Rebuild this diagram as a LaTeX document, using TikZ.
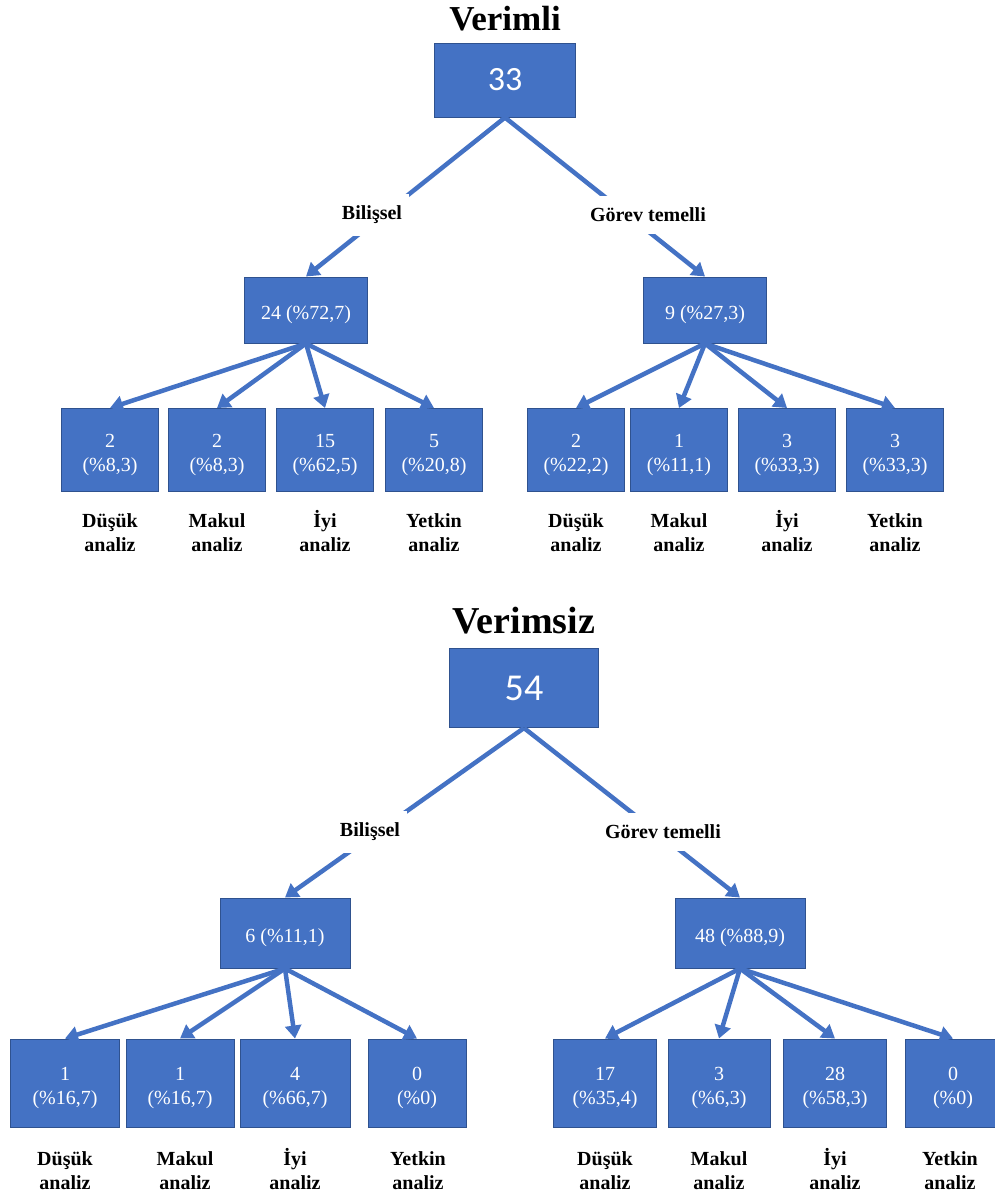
\documentclass[tikz,border=0pt]{standalone}
\usepackage{fontspec}
\setmainfont{Liberation Serif}
\newfontfamily\rootfont{Carlito}
\usetikzlibrary{arrows.meta}

\definecolor{boxblue}{HTML}{4472C4}
\definecolor{boxedge}{HTML}{2F528F}

% struts that fix the height of a first line
\newcommand\leafstrut{\rule{0pt}{23.5pt}}
\newcommand\capstrut{\rule{0pt}{18.5pt}}

\tikzset{
    rootbox/.style={draw=boxedge, line width=1pt, fill=boxblue, text=white, inner sep=0pt,
        font=\rootfont\fontsize{34}{40}\selectfont, minimum width=141pt, minimum height=74pt},
    midbox/.style={draw=boxedge, line width=1pt, fill=boxblue, text=white, inner sep=0pt,
        font=\fontsize{20}{24}\selectfont, minimum width=123pt, minimum height=66pt,
        execute at begin node={\rule{0pt}{24pt}}},
    leafbox/.style={draw=boxedge, line width=1pt, fill=boxblue, text=white, inner sep=0pt,
        align=center, font=\fontsize{20}{24}\selectfont, minimum width=97pt, minimum height=83pt},
    title/.style={font=\bfseries\fontsize{35}{40}\selectfont},
    branch/.style={fill=white, inner xsep=7pt, inner ysep=12pt, font=\bfseries\fontsize{20}{24}\selectfont},
    leafcap/.style={align=center, font=\bfseries\fontsize{20}{24}\selectfont},
    conn/.style={boxblue, line width=4.5pt, -{Triangle[length=13pt,width=16pt]}}
}

\begin{document}
\begin{tikzpicture}[x=1pt,y=-1pt]
    \useasboundingbox (0,0) rectangle (995,1195);
    % Verimli
    \node[title] (t1) at (505,18.5) {Verimli};
    \node[rootbox] (v1) at (505,80) {33};
    \node[midbox] (v1b) at (306,310) {24 (\%72,7)};
    \node[midbox] (v1g) at (705,310) {9 (\%27,3)};
    \node[leafbox] (v1b1) at (110,450) {\leafstrut 2\\(\%8,3)};
    \node[leafbox] (v1b2) at (217,450) {\leafstrut 2\\(\%8,3)};
    \node[leafbox] (v1b3) at (325,450) {\leafstrut 15\\(\%62,5)};
    \node[leafbox] (v1b4) at (434,450) {\leafstrut 5\\(\%20,8)};
    \node[leafbox] (v1g1) at (576,450) {\leafstrut 2\\(\%22,2)};
    \node[leafbox] (v1g2) at (679,450) {\leafstrut 1\\(\%11,1)};
    \node[leafbox] (v1g3) at (787,450) {\leafstrut 3\\(\%33,3)};
    \node[leafbox] (v1g4) at (895,450) {\leafstrut 3\\(\%33,3)};
    \node[leafcap] (c1b1) at (110,530) {\capstrut Düşük\\analiz};
    \node[leafcap] (c1b2) at (217,530) {\capstrut Makul\\analiz};
    \node[leafcap] (c1b3) at (325,530) {\capstrut İyi\\analiz};
    \node[leafcap] (c1b4) at (434,530) {\capstrut Yetkin\\analiz};
    \node[leafcap] (c1g1) at (576,530) {\capstrut Düşük\\analiz};
    \node[leafcap] (c1g2) at (679,530) {\capstrut Makul\\analiz};
    \node[leafcap] (c1g3) at (787,530) {\capstrut İyi\\analiz};
    \node[leafcap] (c1g4) at (895,530) {\capstrut Yetkin\\analiz};
    \draw[conn] (v1.south) -- (v1b.north);
    \draw[conn] (v1.south) -- (v1g.north);
    \draw[conn] (v1b.south) -- (v1b1.north);
    \draw[conn] (v1b.south) -- (v1b2.north);
    \draw[conn] (v1b.south) -- (v1b3.north);
    \draw[conn] (v1b.south) -- (v1b4.north);
    \draw[conn] (v1g.south) -- (v1g1.north);
    \draw[conn] (v1g.south) -- (v1g2.north);
    \draw[conn] (v1g.south) -- (v1g3.north);
    \draw[conn] (v1g.south) -- (v1g4.north);
    \node[branch] (l1b) at (372,215) {Bilişsel};
    \node[branch] (l1g) at (648,215) {Görev temelli};
    % Verimsiz
    \node[title, font=\bfseries\fontsize{38}{44}\selectfont] (t2) at (524,621) {Verimsiz};
    \node[rootbox, minimum width=149pt, minimum height=79pt,
        font=\rootfont\fontsize{38}{44}\selectfont] (v2) at (524,688) {54};
    \node[midbox, minimum width=130pt, minimum height=70pt] (v2b) at (285,933) {6 (\%11,1)};
    \node[midbox, minimum width=130pt, minimum height=70pt] (v2g) at (740,933) {48 (\%88,9)};
    \node[leafbox, minimum width=109pt, minimum height=88pt] (v2b1) at (65,1083) {\leafstrut 1\\(\%16,7)};
    \node[leafbox, minimum width=108pt, minimum height=88pt] (v2b2) at (180,1083) {\leafstrut 1\\(\%16,7)};
    \node[leafbox, minimum width=110pt, minimum height=88pt] (v2b3) at (295,1083) {\leafstrut 4\\(\%66,7)};
    \node[leafbox, minimum width=98pt, minimum height=88pt] (v2b4) at (417,1083) {\leafstrut 0\\(\%0)};
    \node[leafbox, minimum width=103pt, minimum height=88pt] (v2g1) at (605,1083) {\leafstrut 17\\(\%35,4)};
    \node[leafbox, minimum width=102pt, minimum height=88pt] (v2g2) at (719,1083) {\leafstrut 3\\(\%6,3)};
    \node[leafbox, minimum width=103pt, minimum height=88pt] (v2g3) at (835,1083) {\leafstrut 28\\(\%58,3)};
    \node[leafbox, minimum width=96pt, minimum height=88pt] (v2g4) at (953,1083) {\leafstrut 0\\(\%0)};
    \node[leafcap] (c2b1) at (65,1168) {\capstrut Düşük\\analiz};
    \node[leafcap] (c2b2) at (185,1168) {\capstrut Makul\\analiz};
    \node[leafcap] (c2b3) at (295,1168) {\capstrut İyi\\analiz};
    \node[leafcap] (c2b4) at (418,1168) {\capstrut Yetkin\\analiz};
    \node[leafcap] (c2g1) at (605,1168) {\capstrut Düşük\\analiz};
    \node[leafcap] (c2g2) at (719,1168) {\capstrut Makul\\analiz};
    \node[leafcap] (c2g3) at (835,1168) {\capstrut İyi\\analiz};
    \node[leafcap] (c2g4) at (950,1168) {\capstrut Yetkin\\analiz};
    \draw[conn] (v2.south) -- (v2b.north);
    \draw[conn] (v2.south) -- (v2g.north);
    \draw[conn] (v2b.south) -- (v2b1.north);
    \draw[conn] (v2b.south) -- (v2b2.north);
    \draw[conn] (v2b.south) -- (v2b3.north);
    \draw[conn] (v2b.south) -- (v2b4.north);
    \draw[conn] (v2g.south) -- (v2g1.north);
    \draw[conn] (v2g.south) -- (v2g2.north);
    \draw[conn] (v2g.south) -- (v2g3.north);
    \draw[conn] (v2g.south) -- (v2g4.north);
    \node[branch] (l2b) at (370,832) {Bilişsel};
    \node[branch] (l2g) at (663,832) {Görev temelli};
\end{tikzpicture}
\end{document}
